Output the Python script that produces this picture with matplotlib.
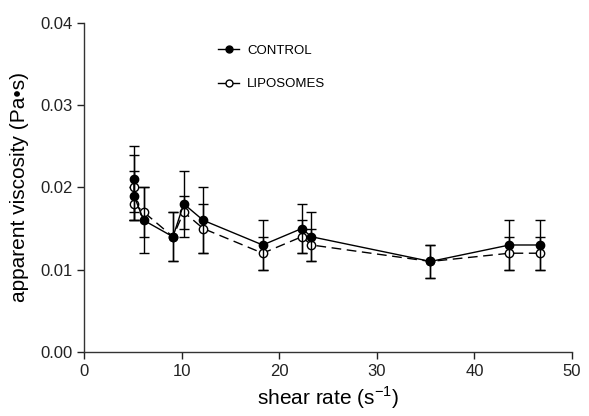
import matplotlib
matplotlib.use("Agg")
import matplotlib.pyplot as plt
from matplotlib.lines import Line2D

# shear rate (s^-1) and apparent viscosity (Pa·s)
shear_rate = [5.1, 5.1, 6.1, 9.1, 10.2, 12.2, 18.3, 22.3, 23.3, 35.5, 43.6, 46.7]
control_visc = [0.021, 0.019, 0.016, 0.014, 0.018, 0.016, 0.013, 0.015, 0.014, 0.011, 0.013, 0.013]
control_err = [0.004, 0.003, 0.004, 0.003, 0.004, 0.004, 0.003, 0.003, 0.003, 0.002, 0.003, 0.003]
lipo_visc = [0.020, 0.018, 0.017, 0.014, 0.017, 0.015, 0.012, 0.014, 0.013, 0.011, 0.012, 0.012]
lipo_err = [0.004, 0.002, 0.003, 0.003, 0.002, 0.003, 0.002, 0.002, 0.002, 0.002, 0.002, 0.002]

x_ticks = [0, 10, 20, 30, 40, 50]
y_ticks = [0.00, 0.01, 0.02, 0.03, 0.04]

plt.rcParams["font.family"] = ["Liberation Sans", "DejaVu Sans"]
plt.rcParams["mathtext.fontset"] = "custom"
plt.rcParams["mathtext.rm"] = "Liberation Sans"

fig = plt.figure(figsize=(5.89, 4.16), dpi=100)
ax = fig.add_axes([0.143, 0.154, 0.828, 0.791])

# liposomes first, control drawn on top (filled dots hide coincident open ones)
ax.errorbar(shear_rate, lipo_visc, yerr=lipo_err, color="black", lw=1.0,
            ls=(0, (7, 4)), marker="o", ms=6, mfc="white", mec="black",
            capsize=3.5, elinewidth=1.0, capthick=1.0, zorder=3)
ax.errorbar(shear_rate, control_visc, yerr=control_err, color="black", lw=1.0,
            marker="o", ms=6, mfc="black", mec="black", capsize=3.5,
            elinewidth=1.0, capthick=1.0, zorder=4)

ax.set_xlim(0, 50)
ax.set_ylim(0, 0.04)
ax.set_xticks(x_ticks)
ax.set_yticks(y_ticks)
ax.set_yticklabels([f"{v:.2f}" for v in y_ticks])
ax.tick_params(direction="out", length=5, width=1, labelsize=12, colors="#222222")

for side in ("top", "right"):
    ax.spines[side].set_visible(False)
for side in ("left", "bottom"):
    ax.spines[side].set_color("#333333")
    ax.spines[side].set_linewidth(1.0)

ax.set_xlabel("shear rate (s$^{\\mathregular{-1}}$)", fontsize=15, labelpad=4)
ax.set_ylabel("apparent viscosity (Pa\u2022s)", fontsize=15, labelpad=8)

handles = [
    Line2D([], [], color="black", lw=1, marker="o", ms=5, mfc="black", mec="black"),
    Line2D([], [], color="black", lw=1, marker="o", ms=5, mfc="white", mec="black"),
]
ax.legend(handles, ["CONTROL", "LIPOSOMES"], loc="upper left",
          bbox_to_anchor=(0.25, 0.97), frameon=False, fontsize=9.5,
          handlelength=1.6, labelspacing=1.6, handletextpad=0.6)

fig.savefig("out.png", dpi=100)
